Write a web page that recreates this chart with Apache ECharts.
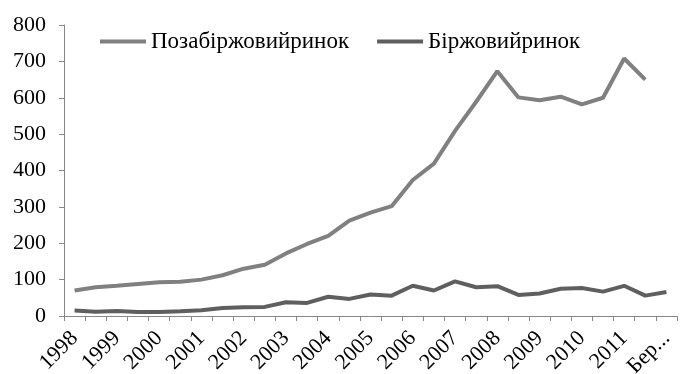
<!DOCTYPE html>
<html>
<head>
<meta charset="utf-8">
<script src="https://cdn.jsdelivr.net/npm/echarts@6/dist/echarts.min.js"></script>
<style>html,body{margin:0;padding:0;background:#fff;}#c{width:680px;height:374px;}</style>
</head>
<body>
<div id="c"></div>
<script>
var categories = ['1998 I','1998 II','1999 I','1999 II','2000 I','2000 II','2001 I','2001 II','2002 I','2002 II','2003 I','2003 II','2004 I','2004 II','2005 I','2005 II','2006 I','2006 II','2007 I','2007 II','2008 I','2008 II','2009 I','2009 II','2010 I','2010 II','2011 I','2011 II','Бер. 2012'];
var tickLabels = ['1998','1999','2000','2001','2002','2003','2004','2005','2006','2007','2008','2009','2010','2011','Бер...'];
var otcName = 'Позабіржовийринок';
var exchName = 'Біржовийринок';
var otcValues = [70,79,83,88,93,94,100,112,130,141,172,198,220,262,284,302,374,419,509,589,673,601,593,603,582,600,708,650];
var exchValues = [15,12,14,11,11,13,16,22,24,25,38,36,53,47,59,56,83,70,95,79,82,58,62,75,77,67,83,56,66];
var yTicks = [0,100,200,300,400,500,600,700,800];

var font = '"Liberation Serif", "Times New Roman", serif';
var chart = echarts.init(document.getElementById('c'), null, {renderer:'canvas'});
chart.setOption({
  animation: false,
  backgroundColor: '#fff',
  grid: {left: 64, right: 3, top: 25, bottom: 58, containLabel: false, outerBoundsMode: 'none'},
  legend: {
    left: 100, top: 30, padding: 0,
    icon: 'rect',
    itemWidth: 46, itemHeight: 4, itemGap: 28,
    textStyle: {fontFamily: font, fontSize: 23, color: '#000'},
    data: [otcName, exchName]
  },
  xAxis: {
    type: 'category',
    data: categories,
    boundaryGap: true,
    axisLine: {lineStyle: {color: '#888', width: 1}},
    axisTick: {show: true, length: 5, interval: 0, lineStyle: {color: '#888'}},
    axisLabel: {
      interval: 1, rotate: 45, margin: 19,
      fontFamily: font, fontSize: 22, color: '#000',
      formatter: function (v, i) { return tickLabels[Math.floor(i / 2)]; }
    },
    splitLine: {show: false}
  },
  yAxis: {
    type: 'value',
    min: yTicks[0], max: yTicks[yTicks.length - 1], interval: 100,
    axisLine: {show: true, lineStyle: {color: '#888', width: 1}},
    axisTick: {show: true, length: 5, lineStyle: {color: '#888'}},
    axisLabel: {margin: 18, fontFamily: font, fontSize: 22, color: '#000'},
    splitLine: {show: false}
  },
  series: [
    {name: otcName, type: 'line', data: otcValues, symbol: 'none',
     lineStyle: {color: '#808080', width: 4}, itemStyle: {color: '#808080'}},
    {name: exchName, type: 'line', data: exchValues, symbol: 'none',
     lineStyle: {color: '#5f5f5f', width: 4}, itemStyle: {color: '#5f5f5f'}}
  ]
});
</script>
</body>
</html>
